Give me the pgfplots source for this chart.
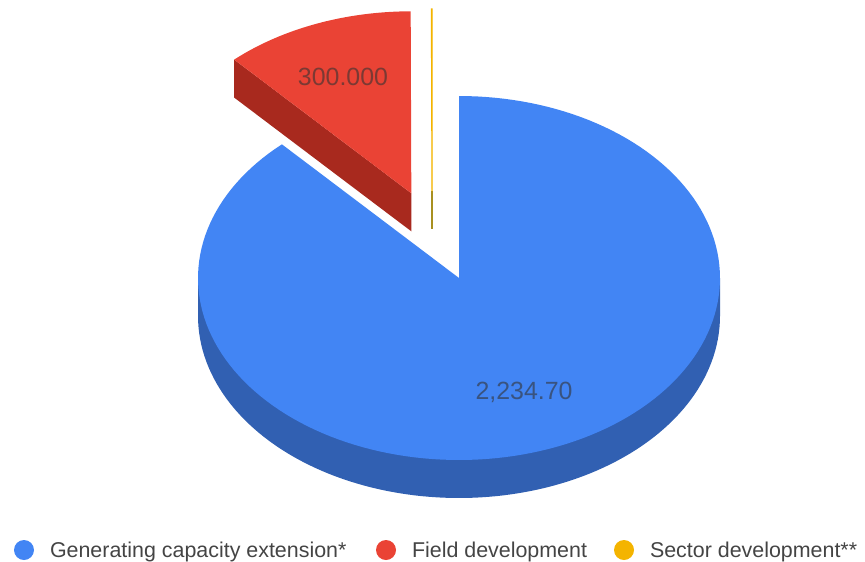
\documentclass[border=0pt]{standalone}
\usepackage{pgfplots}
\pgfplotsset{compat=1.18}
\usepackage{fontspec}
\setmainfont{Liberation Sans}
\definecolor{gblue}{HTML}{4285F4}
\definecolor{gbluedark}{HTML}{3160B2}
\definecolor{gred}{HTML}{EA4335}
\definecolor{greddark}{HTML}{A8291E}
\definecolor{gyellow}{HTML}{F4B400}
\definecolor{gyellowdark}{HTML}{A89020}
\definecolor{legtext}{HTML}{444444}
\definecolor{labtext}{HTML}{333333}

% data
\def\valA{2234.70}% Generating capacity extension*
\def\valB{300.000}% Field development
\def\valC{1}% Sector development**
\pgfmathsetmacro\tot{\valA+\valB+\valC}
\pgfmathsetmacro\aA{360*(\valA/\tot)}
\pgfmathsetmacro\aB{360*(\valB/\tot)}
\pgfmathsetmacro\aC{360*(\valC/\tot)}
% slices run clockwise from 12 o'clock (math angles)
\pgfmathsetmacro\bS{90-\aA}
\pgfmathsetmacro\rS{90-\aA-\aB}
\pgfmathsetmacro\rE{90-\aA}
\pgfmathsetmacro\yS{90-\aA-\aB-\aC}
\pgfmathsetmacro\yE{90-\aA-\aB}
\def\cx{459}\def\cy{278}\def\rx{261}\def\ry{182}\def\dep{38}
\pgfmathsetmacro\rmid{(\rS+\rE)/2}
\pgfmathsetmacro\Px{\cx+0.5*\rx*cos(\rmid)}
\pgfmathsetmacro\Py{\cy-0.5*\ry*sin(\rmid)}
\pgfmathsetmacro\Lx{\Px+\rx*cos(\rE)}
\pgfmathsetmacro\Ly{\Py-\ry*sin(\rE)}
\def\Yx{432}\def\Yy{191}

\newcommand\legdot[1]{\tikz[baseline=0pt]\fill[#1] (10bp,7bp) circle[radius=10bp];\hspace{16bp}}

\begin{document}
\begin{tikzpicture}
\begin{axis}[
  scale only axis, width=865bp, height=561bp,
  xmin=0, xmax=865, ymin=0, ymax=561, y dir=reverse,
  hide axis, clip=false, no markers,
]
\addplot[draw=none] coordinates {(0,0) (865,561)};
% blue slice: outer wall then top
\addplot[fill=gbluedark, draw=none, domain=180:360, samples=100]
  ({\cx+\rx*cos(x)}, {\cy+\dep-\ry*sin(x)}) -- (\cx+\rx,\cy) -- (\cx-\rx,\cy) -- cycle;
\addplot[fill=gblue, draw=none, domain=\bS:90, samples=160]
  ({\cx+\rx*cos(x)}, {\cy-\ry*sin(x)}) -- (\cx,\cy) -- cycle;
% red slice (exploded): side then top
\addplot[fill=greddark, draw=none, domain=0:1, samples=2]
  ({\Px+x*(\Lx-\Px)}, {\Py+x*(\Ly-\Py)}) -- (\Lx,\Ly+\dep) -- (\Px,\Py+\dep) -- cycle;
\addplot[fill=gred, draw=none, domain=\rS:\rE, samples=60]
  ({\Px+\rx*cos(x)}, {\Py-\ry*sin(x)}) -- (\Px,\Py) -- cycle;
% yellow slice (very thin)
\addplot[draw=gyellowdark, line width=1.1bp, domain=0:1, samples=2]
  ({\Yx}, {\Yy+x*\dep});
\addplot[fill=gyellow, draw=gyellow, line width=1.1bp, domain=\yS:\yE, samples=2]
  ({\Yx+\rx*cos(x)}, {\Yy-\ry*sin(x)}) -- (\Yx,\Yy) -- cycle;
% labels
\node[font=\fontsize{25}{30}\selectfont, text=labtext, text opacity=0.6] at (axis cs:343,77) {300.000};
\node[font=\fontsize{25}{30}\selectfont, text=labtext, text opacity=0.6] at (axis cs:524,392) {2,234.70};
% legend
\begin{scope}[every node/.style={anchor=base west, inner sep=0pt, outer sep=0pt,
    font=\fontsize{21.5}{25}\selectfont, text=legtext}]
\node at (axis cs:14,557) {\legdot{gblue}Generating capacity extension*};
\node at (axis cs:376,557) {\legdot{gred}Field development};
\node at (axis cs:614,557) {\legdot{gyellow}Sector development**};
\end{scope}
\end{axis}
\end{tikzpicture}
\end{document}
